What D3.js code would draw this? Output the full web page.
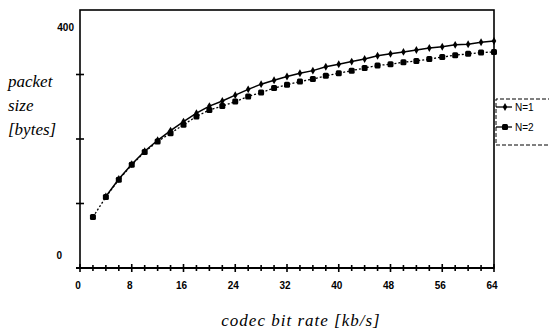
<!DOCTYPE html>
<html>
<head>
<meta charset="utf-8">
<script src="https://cdn.jsdelivr.net/npm/d3@7"></script>
<style>
  body { margin: 0; background: #fff; }
  svg { display: block; }
  .ticklabel { font-family: "Liberation Sans", Arial, sans-serif; font-size: 10px; font-weight: bold; fill: #000; }
  .axistitle { font-family: "Liberation Serif", "Times New Roman", serif; font-style: italic; font-size: 17px; fill: #000; }
  .legendlabel { font-family: "Liberation Sans", Arial, sans-serif; font-size: 10px; fill: #000; }
</style>
</head>
<body>
<div id="chart"></div>
<script>
// codec bit rate [kb/s]
var rateN1 = [4, 6, 8, 10, 12, 14, 16, 18, 20, 22, 24, 26, 28, 30, 32, 34, 36, 38, 40, 42, 44, 46, 48, 50, 52, 54, 56, 58, 60, 62, 64];
var sizeN1 = [111, 138, 161, 181, 198, 213, 227, 240, 251, 259, 268, 277, 285, 291, 297, 302, 306, 312, 316, 320, 324, 329, 332, 335, 338, 341, 343, 346, 347, 350, 352];
var rateN2 = [2, 4, 6, 8, 10, 12, 14, 16, 18, 20, 22, 24, 26, 28, 30, 32, 34, 36, 38, 40, 42, 44, 46, 48, 50, 52, 54, 56, 58, 60, 62, 64];
var sizeN2 = [79, 110, 137, 160, 180, 196, 209, 222, 235, 245, 251, 258, 266, 272, 279, 284, 289, 293, 298, 302, 306, 310, 314, 316, 319, 321, 324, 327, 330, 332, 334, 335];
var xTickLabels = [0, 8, 16, 24, 32, 40, 48, 56, 64];
var yTickValues = [0, 100, 200, 300, 400];
var yTickLabels = [0, 400];
var seriesNames = ["N=1", "N=2"];

var width = 549, height = 331;
var margin = { left: 80, right: 55, top: 10, bottom: 63 };
var w = width - margin.left - margin.right;
var h = height - margin.top - margin.bottom;

var svg = d3.select('#chart').append('svg')
  .attr('width', width)
  .attr('height', height);

var g = svg.append('g')
  .attr('transform', `translate(${margin.left},${margin.top})`);

var x = d3.scaleLinear().domain([0, 64]).range([0, w]);
var y = d3.scaleLinear().domain([0, 400]).range([h, 0]);

// frame
g.append('rect')
  .attr('x', 0).attr('y', 0)
  .attr('width', w).attr('height', h)
  .attr('fill', 'none')
  .attr('stroke', '#000')
  .attr('stroke-width', 1.6);

// x axis ticks (cross style) every 2 units
var xMinor = d3.range(0, 65, 2);
g.selectAll('.xtick')
  .data(xMinor)
  .enter()
  .append('line')
  .attr('x1', d => x(d)).attr('x2', d => x(d))
  .attr('y1', d => h - (d % 8 == 0 ? 4 : 3))
  .attr('y2', d => h + (d % 8 == 0 ? 4 : 3))
  .attr('stroke', '#000')
  .attr('stroke-width', 1.6);

g.append('line')
  .attr('x1', -4).attr('x2', w)
  .attr('y1', h).attr('y2', h)
  .attr('stroke', '#000').attr('stroke-width', 2.2);

g.selectAll('.xlabel')
  .data(xTickLabels)
  .enter()
  .append('text')
  .attr('class', 'ticklabel')
  .attr('x', d => x(d) - 2)
  .attr('y', h + 21)
  .attr('text-anchor', 'middle')
  .text(d => d);

// y axis ticks
g.selectAll('.ytick')
  .data(yTickValues.slice(1, 4))
  .enter()
  .append('line')
  .attr('x1', -4).attr('x2', 4)
  .attr('y1', d => y(d)).attr('y2', d => y(d))
  .attr('stroke', '#000')
  .attr('stroke-width', 1.6);

g.selectAll('.ylabel')
  .data(yTickLabels)
  .enter()
  .append('text')
  .attr('class', 'ticklabel')
  .attr('x', d => d == 0 ? -18 : -6)
  .attr('y', d => d == 0 ? y(d) - 9 : y(d) + 21)
  .attr('text-anchor', 'end')
  .text(d => d);

// axis titles
var ytitle = svg.append('text')
  .attr('class', 'axistitle')
  .attr('x', 8);
['packet', 'size', '[bytes]'].forEach(function (t, i) {
  ytitle.append('tspan').attr('x', 8).attr('y', 87 + i * 24).text(t);
});

svg.append('text')
  .attr('class', 'axistitle')
  .attr('x', 301)
  .attr('y', 326)
  .attr('text-anchor', 'middle')
  .attr('letter-spacing', 1)
  .text('codec bit rate [kb/s]');

// series
var line = d3.line()
  .x(d => x(d[0]))
  .y(d => y(d[1]));

var dataN1 = d3.zip(rateN1, sizeN1);
var dataN2 = d3.zip(rateN2, sizeN2);

g.append('path')
  .datum(dataN2)
  .attr('d', line)
  .attr('fill', 'none')
  .attr('stroke', '#000')
  .attr('stroke-width', 1.3)
  .attr('stroke-dasharray', '2,2');

g.append('path')
  .datum(dataN1)
  .attr('d', line)
  .attr('fill', 'none')
  .attr('stroke', '#000')
  .attr('stroke-width', 1.5);

g.selectAll('.m2')
  .data(dataN2)
  .enter()
  .append('rect')
  .attr('x', d => x(d[0]) - 3)
  .attr('y', d => y(d[1]) - 3)
  .attr('width', 6)
  .attr('height', 6)
  .attr('rx', 1.5)
  .attr('fill', '#000');

g.selectAll('.m1')
  .data(dataN1)
  .enter()
  .append('path')
  .attr('d', d3.symbol().type(d3.symbolDiamond).size(18))
  .attr('transform', d => `translate(${x(d[0])},${y(d[1])})`)
  .attr('fill', '#000');

// legend
var lg = svg.append('g').attr('transform', `translate(${margin.left + w + 2},99)`);
lg.append('path')
  .attr('d', 'M80,0 H0 V46 H80')
  .attr('fill', 'none')
  .attr('stroke', '#000')
  .attr('stroke-width', 1)
  .attr('stroke-dasharray', '4,2');

seriesNames.forEach(function (name, i) {
  var ly = 8 + i * 20;
  lg.append('line')
    .attr('x1', 0).attr('x2', 16)
    .attr('y1', ly).attr('y2', ly)
    .attr('stroke', '#000').attr('stroke-width', 1.3);
  if (i == 0) {
    lg.append('path')
      .attr('d', d3.symbol().type(d3.symbolDiamond).size(18))
      .attr('transform', `translate(9,${ly})`);
  } else {
    lg.append('rect')
      .attr('x', 6).attr('y', ly - 3)
      .attr('width', 6).attr('height', 6)
      .attr('rx', 1.5);
  }
  lg.append('text')
    .attr('class', 'legendlabel')
    .attr('x', 19)
    .attr('y', ly + 3.5)
    .text(name);
});
</script>
</body>
</html>
